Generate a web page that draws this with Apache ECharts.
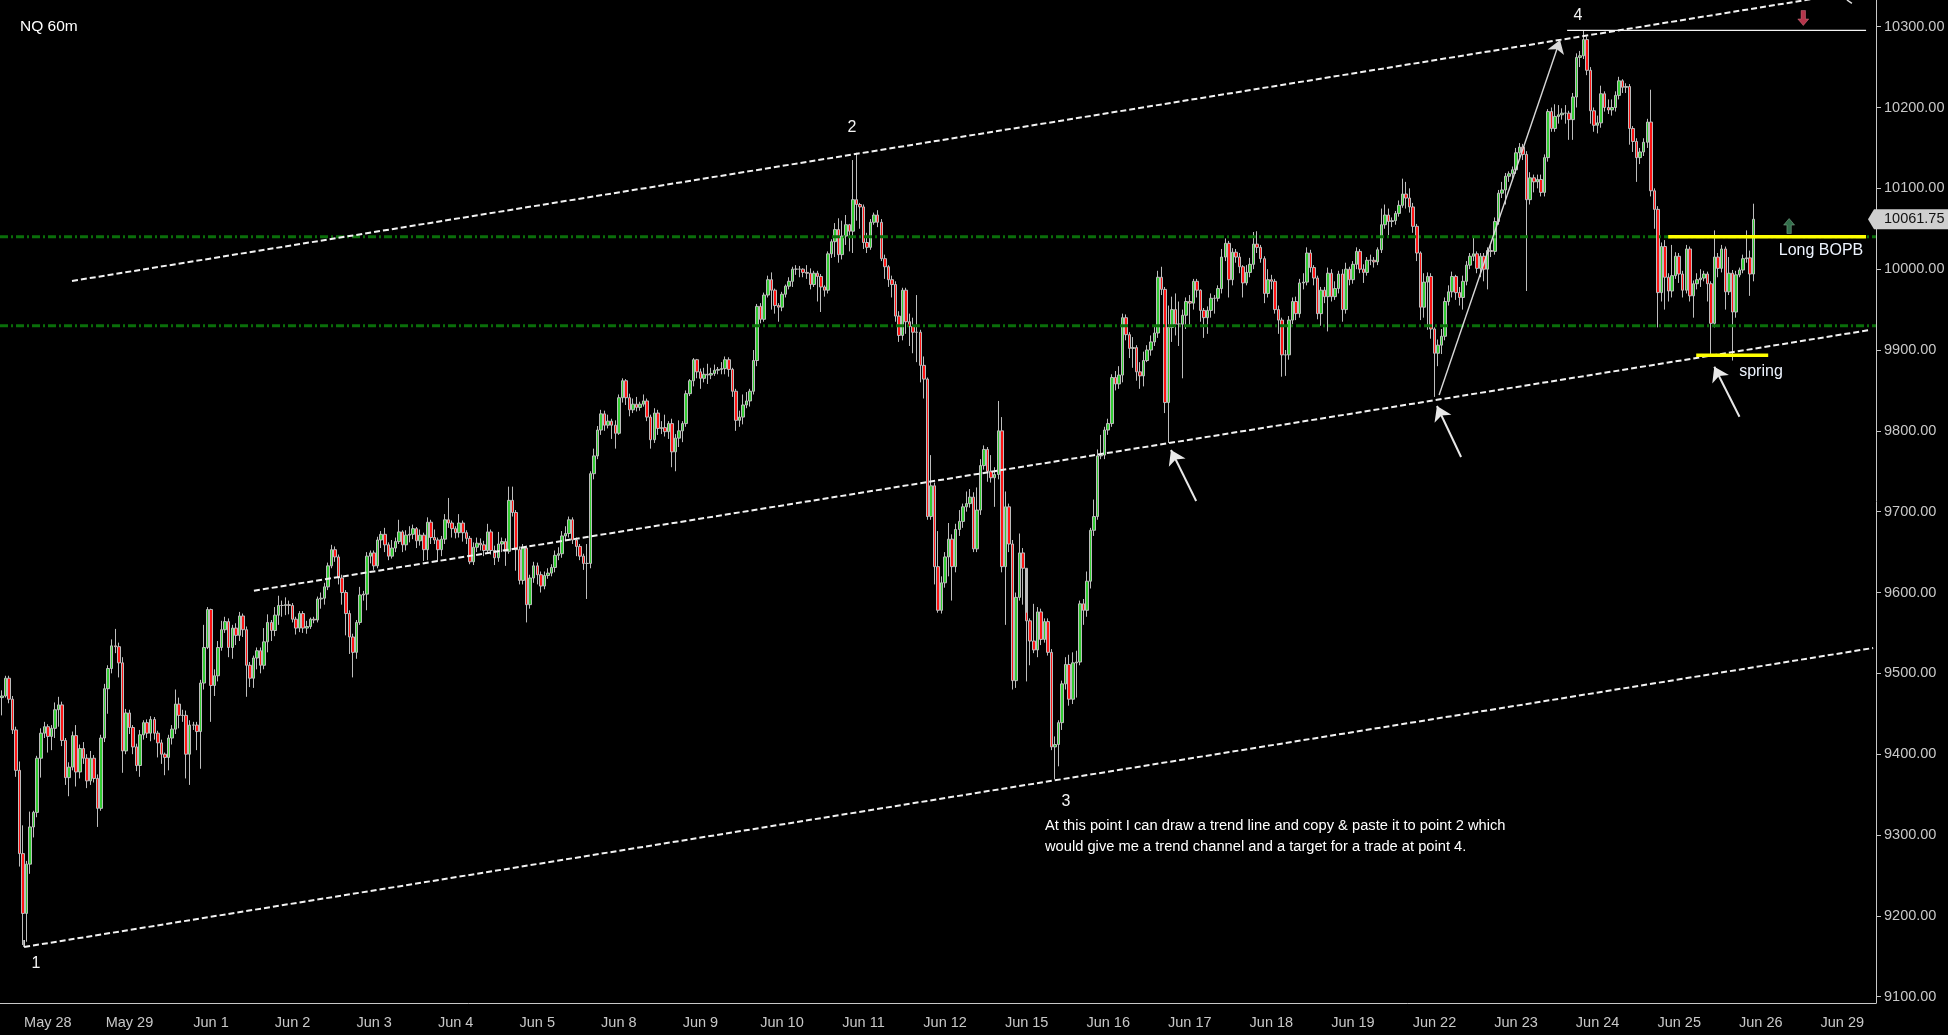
<!DOCTYPE html>
<html>
<head>
<meta charset="utf-8">
<title>NQ 60m</title>
<script src="https://cdn.jsdelivr.net/npm/echarts@6/dist/echarts.min.js"></script>
<style>
  html, body { margin: 0; padding: 0; background: #000; }
  #chart { width: 1948px; height: 1035px; }
</style>
</head>
<body>
<div id="chart"></div>
<script type="text/javascript">
// session labels on the time axis, one tick every 23 hourly bars
var dayLabels = ['May 28', 'May 29', 'Jun 1', 'Jun 2', 'Jun 3', 'Jun 4', 'Jun 5', 'Jun 8', 'Jun 9', 'Jun 10', 'Jun 11', 'Jun 12',
  'Jun 15', 'Jun 16', 'Jun 17', 'Jun 18', 'Jun 19', 'Jun 22', 'Jun 23', 'Jun 24', 'Jun 25', 'Jun 26', 'Jun 29'];
var firstTickBar = 13;
var barsPerDay = 23;
var slotCount = 529;

// hourly closes (each bar opens at the previous close)
var firstOpen = 9470;
var closes = [
  9472, 9494, 9468, 9430, 9380, 9277, 9203, 9264, 9310, 9328, 9395, 9426, 9434, 9422, 9432, 9455, 9461, 9417, 9371, 9384, 9423, 9378, 9407,
  9395, 9367, 9395, 9370, 9333, 9420, 9481, 9506, 9534, 9533, 9513, 9404, 9451, 9433, 9409, 9386, 9424, 9439, 9426, 9443, 9426, 9414, 9400,
  9396, 9420, 9431, 9462, 9448, 9448, 9400, 9436, 9436, 9428, 9488, 9532, 9579, 9485, 9497, 9532, 9554, 9564, 9532, 9556, 9547, 9571, 9554,
  9510, 9494, 9519, 9528, 9510, 9539, 9563, 9553, 9572, 9584, 9584, 9585, 9584, 9567, 9556, 9574, 9556, 9558, 9567, 9566, 9592, 9593, 9607,
  9633, 9653, 9644, 9618, 9600, 9574, 9545, 9526, 9563, 9597, 9598, 9645, 9649, 9633, 9665, 9672, 9659, 9645, 9655, 9663, 9675, 9659, 9671,
  9672, 9679, 9664, 9671, 9653, 9687, 9668, 9665, 9653, 9666, 9690, 9686, 9679, 9674, 9686, 9674, 9667, 9638, 9656, 9661, 9659, 9652, 9675,
  9652, 9643, 9660, 9663, 9651, 9714, 9699, 9653, 9615, 9655, 9585, 9618, 9633, 9622, 9608, 9621, 9624, 9631, 9646, 9648, 9670, 9673, 9690,
  9665, 9657, 9645, 9636, 9636, 9747, 9769, 9801, 9821, 9807, 9812, 9807, 9797, 9841, 9862, 9841, 9826, 9833, 9829, 9833, 9837, 9817, 9789,
  9822, 9803, 9804, 9799, 9809, 9774, 9791, 9800, 9809, 9846, 9862, 9888, 9873, 9865, 9870, 9869, 9871, 9875, 9876, 9877, 9888, 9876, 9849,
  9813, 9817, 9832, 9837, 9849, 9887, 9954, 9938, 9968, 9987, 9974, 9955, 9953, 9969, 9979, 9985, 10000, 10000, 10000, 9996, 9995, 9981, 9995,
  9991, 9978, 9974, 10019, 10034, 10049, 10018, 10041, 10055, 10047, 10086, 10080, 10077, 10033, 10027, 10058, 10067, 10058, 10013, 10003, 9987, 9981, 9942,
  9918, 9974, 9935, 9929, 9922, 9922, 9881, 9864, 9694, 9732, 9632, 9578, 9612, 9644, 9666, 9632, 9678, 9688, 9706, 9710, 9718, 9654, 9702,
  9757, 9777, 9750, 9742, 9746, 9800, 9632, 9706, 9660, 9491, 9594, 9649, 9630, 9565, 9540, 9529, 9576, 9542, 9564, 9526, 9409, 9412, 9439,
  9487, 9511, 9468, 9513, 9514, 9586, 9578, 9614, 9677, 9694, 9769, 9770, 9801, 9809, 9866, 9858, 9869, 9940, 9919, 9902, 9903, 9873, 9868,
  9887, 9900, 9910, 9921, 9990, 9975, 9835, 9928, 9950, 9932, 9932, 9943, 9960, 9958, 9985, 9974, 9949, 9940, 9949, 9964, 9964, 9976, 10015,
  10032, 9987, 10021, 10015, 10003, 9983, 9996, 10006, 10031, 10027, 10013, 9970, 9987, 9985, 9950, 9937, 9894, 9894, 9937, 9960, 9945, 9983, 9984,
  10020, 10002, 9989, 9945, 9974, 9966, 9995, 9966, 9976, 9994, 9950, 10000, 9987, 10006, 10022, 10000, 9996, 10011, 10011, 10009, 10024, 10055, 10067,
  10059, 10060, 10069, 10079, 10093, 10088, 10077, 10053, 10020, 9953, 9984, 9991, 9926, 9896, 9906, 9917, 9960, 9972, 9991, 9971, 9965, 9985, 10005,
  10016, 10019, 10001, 10016, 10000, 10023, 10022, 10059, 10094, 10098, 10115, 10118, 10123, 10144, 10151, 10142, 10086, 10113, 10108, 10111, 10095, 10138, 10195,
  10174, 10189, 10191, 10193, 10193, 10185, 10213, 10262, 10264, 10284, 10246, 10196, 10178, 10181, 10217, 10200, 10197, 10200, 10215, 10233, 10225, 10226, 10174,
  10158, 10138, 10145, 10157, 10182, 10097, 10074, 9971, 10028, 9990, 9973, 9992, 10016, 9994, 9974, 10025, 9967, 9982, 9987, 9989, 9994, 9982, 9933,
  10015, 10001, 10025, 9972, 9995, 9947, 9993, 9999, 10013, 10014, 9994, 10061.75
];
var highs = [
  9479, 9497, 9497, 9472, 9434, 9391, 9312, 9268, 9329, 9330, 9398, 9432, 9440, 9437, 9436, 9464, 9471, 9465, 9420, 9390, 9428, 9436, 9412,
  9415, 9400, 9404, 9399, 9375, 9424, 9487, 9510, 9542, 9555, 9538, 9520, 9456, 9455, 9436, 9413, 9430, 9442, 9443, 9447, 9446, 9429, 9418,
  9402, 9424, 9436, 9480, 9470, 9455, 9454, 9442, 9440, 9440, 9492, 9560, 9582, 9580, 9505, 9540, 9565, 9570, 9568, 9560, 9562, 9576, 9574,
  9558, 9514, 9522, 9532, 9532, 9556, 9573, 9566, 9582, 9596, 9590, 9594, 9590, 9587, 9570, 9577, 9577, 9565, 9569, 9570, 9595, 9600, 9612,
  9637, 9659, 9657, 9647, 9622, 9603, 9578, 9549, 9566, 9607, 9602, 9650, 9652, 9652, 9669, 9676, 9680, 9662, 9665, 9668, 9690, 9677, 9677,
  9682, 9684, 9681, 9678, 9674, 9693, 9690, 9678, 9668, 9670, 9697, 9717, 9689, 9682, 9697, 9689, 9677, 9670, 9662, 9668, 9667, 9664, 9685,
  9678, 9658, 9675, 9668, 9667, 9731, 9731, 9702, 9657, 9660, 9658, 9622, 9638, 9637, 9626, 9626, 9630, 9635, 9652, 9656, 9676, 9682, 9694,
  9693, 9668, 9660, 9648, 9660, 9750, 9778, 9806, 9826, 9825, 9820, 9815, 9813, 9845, 9865, 9864, 9846, 9840, 9842, 9836, 9845, 9840, 9820,
  9828, 9826, 9812, 9820, 9812, 9815, 9796, 9813, 9812, 9850, 9864, 9890, 9889, 9877, 9878, 9883, 9878, 9882, 9879, 9885, 9892, 9891, 9878,
  9852, 9825, 9845, 9848, 9852, 9900, 9957, 9958, 9971, 9992, 9996, 9976, 9958, 9972, 9981, 9990, 10003, 10005, 10004, 10001, 10005, 10001, 9998,
  9998, 9994, 9980, 10022, 10037, 10057, 10063, 10060, 10067, 10056, 10135, 10144, 10082, 10080, 10045, 10062, 10070, 10073, 10062, 10018, 10005, 9992, 9985,
  9948, 9977, 9977, 9945, 9940, 9968, 9925, 9892, 9866, 9770, 9736, 9676, 9620, 9650, 9686, 9672, 9685, 9702, 9710, 9725, 9728, 9724, 9730,
  9765, 9782, 9780, 9770, 9755, 9837, 9817, 9725, 9710, 9665, 9600, 9673, 9655, 9575, 9568, 9586, 9582, 9580, 9568, 9568, 9530, 9422, 9442,
  9491, 9520, 9523, 9526, 9528, 9590, 9592, 9626, 9680, 9715, 9777, 9795, 9805, 9815, 9870, 9874, 9880, 9945, 9944, 9922, 9916, 9906, 9885,
  9898, 9906, 9918, 9930, 9998, 10003, 9978, 9955, 9966, 9970, 9960, 9950, 9965, 9968, 9988, 9988, 9975, 9952, 9954, 9970, 9968, 9980, 10025,
  10038, 10035, 10026, 10025, 10020, 10005, 10005, 10014, 10046, 10047, 10030, 10016, 10000, 9993, 9988, 9955, 9940, 9900, 9942, 9965, 9966, 9988, 9995,
  10027, 10024, 10005, 9992, 9978, 9978, 10002, 10000, 9985, 9998, 10000, 10008, 10003, 10010, 10027, 10025, 10006, 10015, 10018, 10015, 10027, 10075, 10080,
  10075, 10064, 10072, 10085, 10112, 10108, 10100, 10082, 10056, 10022, 9995, 9996, 9995, 9928, 9913, 9926, 9965, 9980, 9997, 9993, 9978, 9992, 10010,
  10020, 10040, 10022, 10020, 10020, 10027, 10030, 10064, 10098, 10108, 10119, 10121, 10127, 10150, 10156, 10155, 10146, 10120, 10117, 10117, 10117, 10142, 10198,
  10200, 10204, 10203, 10199, 10203, 10196, 10218, 10267, 10270, 10295, 10288, 10250, 10200, 10190, 10227, 10220, 10210, 10210, 10220, 10238, 10235, 10230, 10229,
  10177, 10162, 10150, 10162, 10186, 10222, 10100, 10078, 10033, 10036, 9995, 10030, 10021, 10020, 9998, 10030, 10028, 9986, 9995, 10000, 9998, 9997, 9985,
  10048, 10020, 10030, 10028, 10015, 9999, 9998, 10002, 10018, 10048, 10023, 10081
];
var lows = [
  9448, 9470, 9463, 9425, 9372, 9261, 9164, 9168, 9252, 9297, 9322, 9371, 9420, 9402, 9405, 9420, 9434, 9410, 9362, 9348, 9380, 9360, 9370,
  9388, 9358, 9362, 9365, 9310, 9330, 9415, 9450, 9500, 9525, 9495, 9377, 9400, 9425, 9400, 9379, 9372, 9418, 9420, 9416, 9418, 9396, 9388,
  9374, 9380, 9412, 9425, 9432, 9440, 9370, 9362, 9430, 9405, 9382, 9480, 9530, 9440, 9472, 9490, 9528, 9550, 9520, 9518, 9535, 9540, 9545,
  9471, 9483, 9482, 9505, 9500, 9505, 9526, 9540, 9546, 9560, 9570, 9572, 9573, 9563, 9548, 9551, 9550, 9549, 9555, 9562, 9563, 9580, 9585,
  9603, 9630, 9638, 9610, 9585, 9547, 9524, 9495, 9518, 9560, 9590, 9578, 9636, 9628, 9630, 9655, 9650, 9640, 9642, 9650, 9660, 9650, 9652,
  9662, 9666, 9655, 9658, 9639, 9640, 9660, 9660, 9638, 9645, 9660, 9680, 9668, 9667, 9668, 9663, 9660, 9635, 9634, 9650, 9652, 9645, 9648,
  9647, 9634, 9638, 9650, 9633, 9648, 9694, 9627, 9610, 9610, 9563, 9580, 9612, 9610, 9600, 9604, 9617, 9620, 9625, 9640, 9643, 9665, 9668,
  9660, 9645, 9640, 9628, 9592, 9630, 9740, 9765, 9795, 9800, 9803, 9790, 9778, 9795, 9835, 9832, 9818, 9822, 9824, 9825, 9830, 9812, 9778,
  9785, 9795, 9796, 9793, 9790, 9755, 9750, 9780, 9786, 9805, 9843, 9855, 9865, 9852, 9860, 9858, 9864, 9868, 9870, 9870, 9870, 9867, 9842,
  9800, 9805, 9808, 9828, 9830, 9845, 9880, 9933, 9935, 9965, 9950, 9945, 9935, 9948, 9965, 9975, 9978, 9993, 9990, 9990, 9988, 9975, 9978,
  9960, 9947, 9966, 9970, 10014, 10015, 10008, 10012, 10030, 10022, 10020, 10060, 10050, 10025, 10020, 10024, 10055, 10052, 10010, 9988, 9978, 9965, 9935,
  9910, 9912, 9920, 9905, 9896, 9885, 9860, 9840, 9690, 9690, 9610, 9575, 9574, 9606, 9620, 9590, 9625, 9670, 9680, 9700, 9705, 9650, 9650,
  9696, 9752, 9737, 9736, 9706, 9740, 9625, 9560, 9650, 9480, 9482, 9590, 9585, 9490, 9510, 9525, 9520, 9535, 9538, 9522, 9405, 9369, 9385,
  9430, 9480, 9460, 9462, 9470, 9510, 9560, 9570, 9605, 9670, 9690, 9765, 9765, 9795, 9805, 9850, 9852, 9860, 9912, 9890, 9878, 9862, 9852,
  9855, 9885, 9893, 9905, 9915, 9968, 9822, 9785, 9910, 9918, 9905, 9865, 9926, 9930, 9950, 9965, 9935, 9915, 9920, 9940, 9945, 9960, 9970,
  10010, 9965, 9980, 10008, 9995, 9965, 9980, 9990, 10000, 10020, 10008, 9958, 9965, 9975, 9945, 9920, 9867, 9868, 9888, 9932, 9937, 9940, 9975,
  9980, 9996, 9980, 9938, 9930, 9958, 9923, 9960, 9962, 9970, 9935, 9945, 9980, 9982, 10000, 9995, 9983, 9992, 10005, 10002, 10005, 10020, 10050,
  10042, 10052, 10055, 10065, 10076, 10075, 10070, 10045, 10010, 9937, 9940, 9925, 9914, 9842, 9880, 9895, 9912, 9955, 9965, 9962, 9955, 9950, 9980,
  10000, 10010, 9995, 9990, 9985, 9975, 10015, 10018, 10055, 10088, 10080, 10108, 10110, 10118, 10138, 10135, 9973, 10080, 10095, 10100, 10090, 10090, 10133,
  10170, 10170, 10180, 10185, 10180, 10160, 10160, 10200, 10250, 10260, 10240, 10180, 10170, 10168, 10175, 10195, 10192, 10190, 10195, 10210, 10218, 10218, 10154,
  10145, 10108, 10130, 10140, 10150, 10090, 10050, 9928, 9960, 9950, 9960, 9965, 9988, 9983, 9965, 9970, 9960, 9940, 9975, 9978, 9985, 9960, 9895,
  9928, 9990, 9996, 9950, 9968, 9887, 9940, 9990, 9995, 10008, 9967, 9985
];

// drawn annotations, in [bar position, price]
var upperChannel = [[19.8, 9985.4], [528.5, 10347]];
var lowerChannel = [[6.3, 9161.5], [527.7, 9531.4]];
var lowerChannelEnd = [[6.3, 9161.5], [6.3, 9170.1]];
var copiedLine = [[71.1, 9602.2], [526.8, 9924.8]];
var levelPrices = [10040, 9930];
var breakoutLevel = [[469.9, 10040], [525.7, 10040]];
var springLevel = [[477.8, 9893.5], [498.1, 9893.5]];
var point4Level = [[441.4, 10295.5], [525.7, 10295.5]];
var cornerStroke = [[520.3, 10333], [521.7, 10328.9]];
var touchArrows = [
  [[336.8, 9713.2], [329.7, 9776.3]],
  [[411.5, 9767.6], [404.7, 9830.7]],
  [[490.0, 9817.5], [482.9, 9879.3]]
];
var trendArrow = [[405.3, 9844.3], [439.4, 10283.5]];
var shortMark = [508, 10310.7];
var longMark = [504, 10053.4];
var lastPrice = closes[closes.length - 1];

var FONT = '"Liberation Sans", Arial, sans-serif';
var AXIS = '#c8c8c8';

var categories = [];
for (var i = 0; i < slotCount; i++) categories.push(String(i));
function isTick(i) { return i >= firstTickBar && (i - firstTickBar) % barsPerDay === 0; }

var candles = closes.map(function (c, i) {
  var o = i === 0 ? firstOpen : closes[i - 1];
  return [o, c, lows[i], highs[i]];
});

function dashed(data) {
  return {
    type: 'line', xAxisIndex: 1, yAxisIndex: 0, data: data, symbol: 'none', z: 4, silent: true,
    lineStyle: { color: '#f2f2f2', width: 2, type: [6, 3] }
  };
}
function solid(data, color, width) {
  return {
    type: 'line', xAxisIndex: 1, yAxisIndex: 0, data: data, symbol: 'none', z: 5, silent: true,
    lineStyle: { color: color, width: width }
  };
}

var series = [
  {
    type: 'candlestick', xAxisIndex: 0, yAxisIndex: 0, data: candles, barWidth: 3, z: 2,
    itemStyle: { color: '#33cc33', color0: '#ff1414', borderColor: '#bdbdbd', borderColor0: '#bdbdbd', borderWidth: 1 }
  }
];
levelPrices.forEach(function (p) {
  series.push({
    type: 'line', xAxisIndex: 1, yAxisIndex: 0, data: [[-0.5, p], [slotCount - 0.5, p]], symbol: 'none', z: 3, silent: true,
    lineStyle: { color: '#0a6e0a', width: 3, type: [8, 3, 2, 3] }
  });
});
series.push(dashed(upperChannel), dashed(lowerChannel), dashed(copiedLine));
series.push(solid(lowerChannelEnd, '#f2f2f2', 1.5), solid(cornerStroke, '#e0e0e0', 1.5));
series.push(solid(breakoutLevel, '#ffff00', 3.5), solid(springLevel, '#ffff00', 3.5), solid(point4Level, '#f4f4f4', 1.2));
series.push({
  type: 'lines', coordinateSystem: 'cartesian2d', xAxisIndex: 1, yAxisIndex: 0, z: 6, silent: true,
  symbol: ['none', 'arrow'], symbolSize: 14,
  lineStyle: { color: '#e8e8e8', width: 2, opacity: 1, curveness: 0 },
  data: touchArrows.map(function (a) { return { coords: a }; })
});
series.push({
  type: 'lines', coordinateSystem: 'cartesian2d', xAxisIndex: 1, yAxisIndex: 0, z: 6, silent: true,
  symbol: ['none', 'arrow'], symbolSize: 13,
  lineStyle: { color: '#d8d8d8', width: 1.4, opacity: 1, curveness: 0 },
  data: [{ coords: trendArrow }]
});
series.push({
  type: 'scatter', xAxisIndex: 1, yAxisIndex: 0, z: 6, silent: true,
  data: [
    { value: shortMark, symbol: 'path://M3,0L7,0L7,9L10,9L5,16L0,9L3,9Z', symbolSize: [11, 15],
      itemStyle: { color: '#e2425e', borderColor: '#f08a9a', borderWidth: 0.5 } },
    { value: longMark, symbol: 'path://M5,0L10,7L7,7L7,16L3,16L3,7L0,7Z', symbolSize: [11, 15],
      itemStyle: { color: '#3f8a5e', borderColor: '#9fd0ae', borderWidth: 0.5 } }
  ]
});

var chart = echarts.init(document.getElementById('chart'));
var option = {
  backgroundColor: '#000',
  animation: false,
  grid: [
    { left: 0, right: 72, top: 0, bottom: 32 },
    { left: 0, right: 72, top: 26.7, bottom: 38.3 }
  ],
  xAxis: [
    {
      type: 'category', gridIndex: 0, data: categories, boundaryGap: true,
      axisLine: { onZero: false, lineStyle: { color: AXIS, width: 1 } },
      axisTick: { interval: function (i) { return isTick(i); }, alignWithLabel: true, length: 5, lineStyle: { color: AXIS } },
      axisLabel: {
        interval: function (i) { return isTick(i); },
        formatter: function (v) { return dayLabels[(Number(v) - firstTickBar) / barsPerDay] || ''; },
        color: AXIS, fontSize: 14.5, fontFamily: FONT, margin: 12
      },
      splitLine: { show: false }
    },
    { type: 'value', gridIndex: 0, min: -0.5, max: slotCount - 0.5, show: false, axisLine: { onZero: false } },
    { type: 'value', gridIndex: 1, min: 0, max: 1, show: false, axisLine: { onZero: false } }
  ],
  yAxis: [
    {
      type: 'value', gridIndex: 0, position: 'right', min: 9092.2, max: 10333,
      axisLine: { show: true, onZero: false, lineStyle: { color: AXIS } },
      axisTick: { show: false }, axisLabel: { show: false }, splitLine: { show: false }
    },
    {
      type: 'value', gridIndex: 1, position: 'right', min: 9100, max: 10300, interval: 100,
      axisLine: { show: false, onZero: false },
      axisTick: { show: true, length: 5, lineStyle: { color: AXIS } },
      axisLabel: { color: AXIS, fontSize: 14.5, fontFamily: FONT, margin: 8, formatter: function (v) { return v.toFixed(2); } },
      splitLine: { show: false }
    }
  ],
  series: series
};
chart.setOption(option);

// price tag and text notes
var tagY = chart.convertToPixel({ yAxisIndex: 0 }, lastPrice);
function note(text, x, y, size, align, color) {
  return {
    type: 'text', x: x, y: y, z: 10, silent: true,
    style: { text: text, font: size + 'px ' + FONT, fill: color || '#f4f4f4', align: align || 'center', verticalAlign: 'middle' }
  };
}
chart.setOption({
  graphic: [
    { type: 'polygon', z: 10, silent: true,
      shape: { points: [[1868, tagY], [1874, tagY - 10], [1948, tagY - 10], [1948, tagY + 10], [1874, tagY + 10]] },
      style: { fill: '#cfcfcf' } },
    note(lastPrice.toFixed(2), 1884, tagY, 14.5, 'left', '#111'),
    note('NQ 60m', 20, 27, 15.5, 'left', '#ffffff'),
    note('1', 36, 964, 16),
    note('2', 852, 128, 16),
    note('3', 1066, 802, 16),
    note('4', 1578, 16, 16),
    note('spring', 1761, 372, 16, 'center', '#eef4ff'),
    note('Long BOPB', 1821, 251, 16, 'center', '#eef4ff'),
    note('At this point I can draw a trend line and copy & paste it to point 2 which', 1045, 826, 14.7, 'left', '#ffffff'),
    note('would give me a trend channel and a target for a trade at point 4.', 1045, 847, 14.7, 'left', '#ffffff')
  ]
});
</script>
</body>
</html>
